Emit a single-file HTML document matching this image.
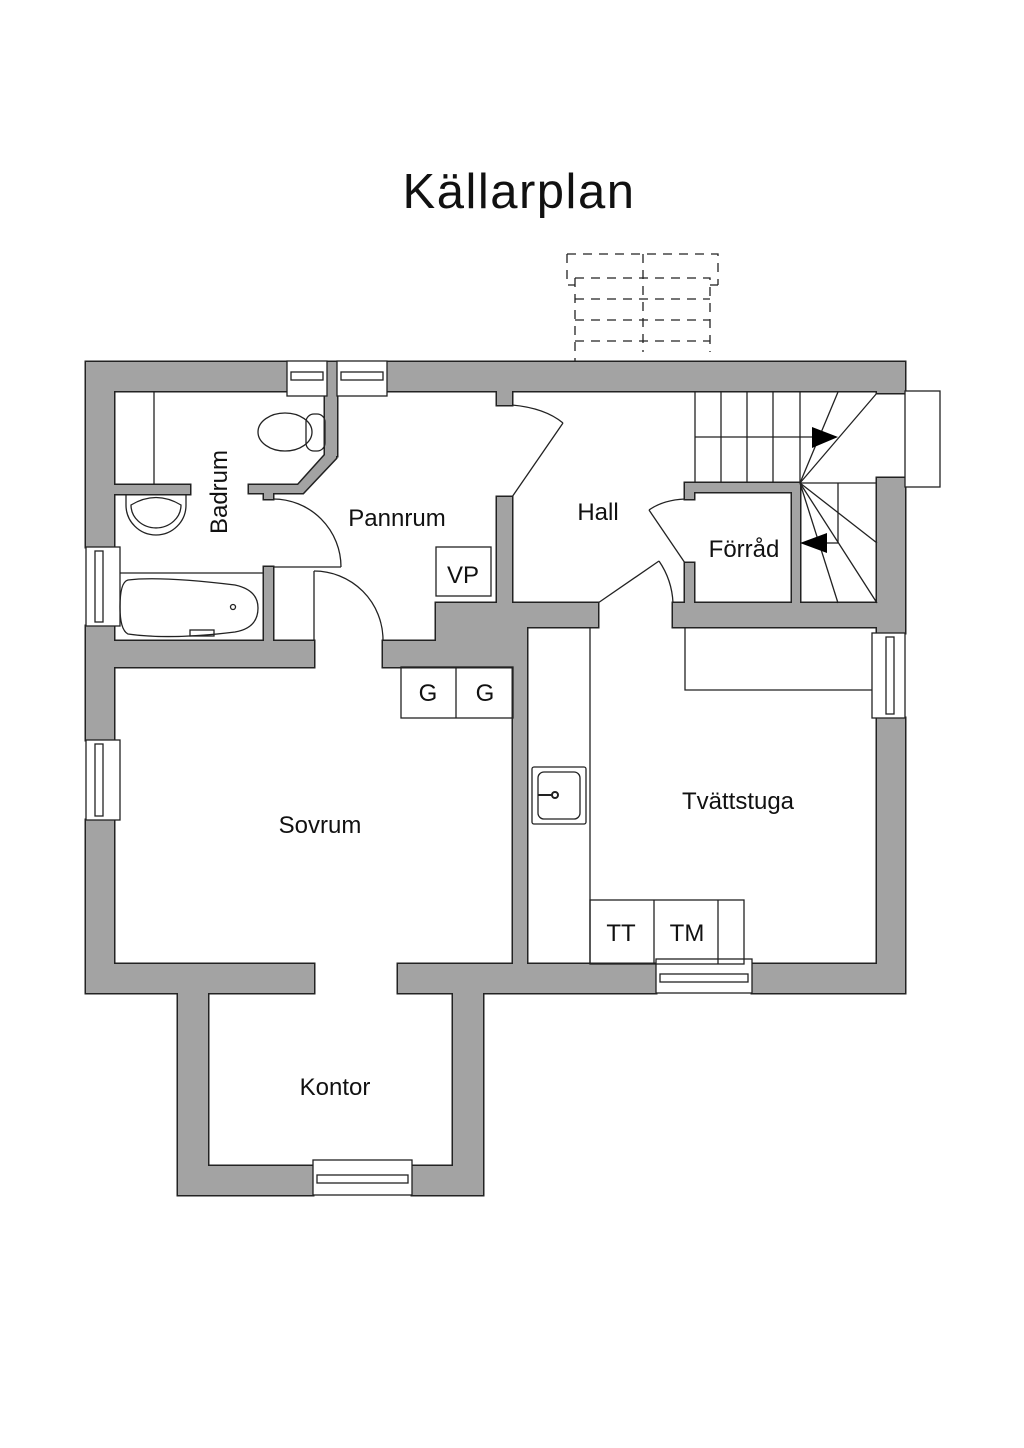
<!DOCTYPE html>
<html><head><meta charset="utf-8"><style>
html,body{margin:0;padding:0;background:#fff;}
svg{display:block;}
text{font-family:"Liberation Sans",sans-serif;fill:#111;}
</style></head><body>
<svg width="1024" height="1448" viewBox="0 0 1024 1448" xmlns="http://www.w3.org/2000/svg">
<text x="519" y="208" font-size="49" letter-spacing="1.5" text-anchor="middle">Källarplan</text>

<!-- dashed outdoor stairs -->
<g stroke="#222" stroke-width="1.3" fill="none" stroke-dasharray="9,7">
<path d="M567,254 H718 V285"/>
<path d="M567,254 V285 H575"/>
<path d="M575,278 H710 V352"/>
<path d="M575,278 V362"/>
<path d="M575,299 H710 M575,320 H710 M575,341 H710"/>
<path d="M643,254 V352"/>
<path d="M710,285 H718"/>
</g>

<!-- walls: outline pass -->
<g id="walls" stroke="#222" stroke-width="3" fill="#a3a3a3">
<rect x="86" y="362" width="201" height="29"/>
<rect x="325" y="362" width="12" height="94"/>
<rect x="387" y="362" width="518" height="29"/>
<rect x="877" y="362" width="28" height="31"/>
<rect x="877" y="478" width="28" height="155"/>
<rect x="877" y="718" width="28" height="275"/>
<rect x="86" y="362" width="28" height="185"/>
<rect x="86" y="626" width="28" height="114"/>
<rect x="86" y="820" width="28" height="173"/>
<rect x="86" y="964" width="228" height="29"/>
<rect x="398" y="964" width="258" height="29"/>
<rect x="752" y="964" width="153" height="29"/>
<rect x="178" y="964" width="30" height="231"/>
<rect x="453" y="964" width="30" height="231"/>
<rect x="178" y="1166" width="135" height="29"/>
<rect x="412" y="1166" width="71" height="29"/>
<rect x="86" y="641" width="228" height="26"/>
<rect x="264" y="567" width="9" height="74"/>
<polygon points="325,390 336,390 336,458 303,493 273,493 273,499 264,499 264,493 249,493 249,485 298,485 325,455"/>
<rect x="114" y="485" width="76" height="9"/>
<rect x="383" y="641" width="144" height="26"/>
<rect x="436" y="603" width="91" height="38"/>
<rect x="497" y="497" width="15" height="120"/>
<rect x="497" y="385" width="15" height="20"/>
<rect x="513" y="603" width="14" height="361"/>
<rect x="513" y="603" width="85" height="24"/>
<rect x="673" y="603" width="232" height="24"/>
<rect x="685" y="563" width="9" height="45"/>
<rect x="685" y="483" width="9" height="16"/>
<rect x="685" y="483" width="115" height="9"/>
<rect x="792" y="483" width="8" height="125"/>
</g>
<g fill="#a3a3a3">
<rect x="86" y="362" width="201" height="29"/>
<rect x="325" y="362" width="12" height="94"/>
<rect x="387" y="362" width="518" height="29"/>
<rect x="877" y="362" width="28" height="31"/>
<rect x="877" y="478" width="28" height="155"/>
<rect x="877" y="718" width="28" height="275"/>
<rect x="86" y="362" width="28" height="185"/>
<rect x="86" y="626" width="28" height="114"/>
<rect x="86" y="820" width="28" height="173"/>
<rect x="86" y="964" width="228" height="29"/>
<rect x="398" y="964" width="258" height="29"/>
<rect x="752" y="964" width="153" height="29"/>
<rect x="178" y="964" width="30" height="231"/>
<rect x="453" y="964" width="30" height="231"/>
<rect x="178" y="1166" width="135" height="29"/>
<rect x="412" y="1166" width="71" height="29"/>
<rect x="86" y="641" width="228" height="26"/>
<rect x="264" y="567" width="9" height="74"/>
<polygon points="325,390 336,390 336,458 303,493 273,493 273,499 264,499 264,493 249,493 249,485 298,485 325,455"/>
<rect x="114" y="485" width="76" height="9"/>
<rect x="383" y="641" width="144" height="26"/>
<rect x="436" y="603" width="91" height="38"/>
<rect x="497" y="497" width="15" height="120"/>
<rect x="497" y="385" width="15" height="20"/>
<rect x="513" y="603" width="14" height="361"/>
<rect x="513" y="603" width="85" height="24"/>
<rect x="673" y="603" width="232" height="24"/>
<rect x="685" y="563" width="9" height="45"/>
<rect x="685" y="483" width="9" height="16"/>
<rect x="685" y="483" width="115" height="9"/>
<rect x="792" y="483" width="8" height="125"/>
</g>

<!-- windows -->
<g stroke="#222" stroke-width="1.3" fill="#fff">
<rect x="287" y="361" width="40" height="35"/><rect x="291" y="372" width="32" height="8"/>
<rect x="337" y="361" width="50" height="35"/><rect x="341" y="372" width="42" height="8"/>
<rect x="86" y="547" width="34" height="79"/><rect x="95" y="551" width="8" height="71"/>
<rect x="86" y="740" width="34" height="80"/><rect x="95" y="744" width="8" height="72"/>
<rect x="872" y="633" width="33" height="85"/><rect x="886" y="637" width="8" height="77"/>
<rect x="656" y="959" width="96" height="34"/><rect x="660" y="974" width="88" height="8"/>
<rect x="313" y="1160" width="99" height="35"/><rect x="317" y="1175" width="91" height="8"/>
<rect x="905" y="391" width="35" height="96"/>
</g>

<g stroke="#222" stroke-width="1.3" fill="none">
<!-- badrum -->
<line x1="154" y1="391" x2="154" y2="485"/>
<path d="M126,494 V505 A30,30 0 0 0 186,505 V494"/>
<path d="M131,505 A24,22 0 0 0 181,505 Q156,490 131,505 Z"/>
<ellipse cx="285" cy="432" rx="27" ry="19"/>
<rect x="306" y="414" width="19" height="37" rx="8"/>
<line x1="120" y1="573" x2="264" y2="573"/>
<path d="M128,580 Q160,576 235,585 Q258,590 258,608 Q258,628 235,632 Q170,640 128,634 Q120,630 120,607 Q120,582 128,580 Z"/>
<circle cx="233" cy="607" r="2.5"/>
<rect x="190" y="630" width="24" height="6"/>
<path d="M273,499 A68,68 0 0 1 341,567"/>
<line x1="273" y1="567" x2="341" y2="567"/>
<path d="M314,571 A69,69 0 0 1 383,640"/>
<line x1="314" y1="571" x2="314" y2="641"/>
<!-- pannrum -->
<rect x="436" y="547" width="55" height="49"/>
<path d="M512,405 Q545,408 563,423"/>
<line x1="563" y1="423" x2="512" y2="497"/>
<!-- hall -->
<line x1="598" y1="603" x2="659" y2="561"/>
<path d="M659,561 Q672,580 673,603"/>
<path d="M685,499 Q663,500 649,510"/>
<line x1="649" y1="510" x2="685" y2="563"/>
<!-- stairs -->
<line x1="695" y1="391" x2="695" y2="483"/>
<line x1="721" y1="391" x2="721" y2="483"/>
<line x1="747" y1="391" x2="747" y2="483"/>
<line x1="773" y1="391" x2="773" y2="483"/>
<line x1="800" y1="391" x2="800" y2="483"/>
<line x1="695" y1="437" x2="836" y2="437"/>
<line x1="800" y1="483" x2="838" y2="392"/>
<line x1="800" y1="483" x2="877" y2="393"/>
<line x1="800" y1="483" x2="877" y2="483"/>
<line x1="838" y1="483" x2="838" y2="543"/>
<line x1="825" y1="543" x2="838" y2="543"/>
<line x1="800" y1="483" x2="877" y2="543"/>
<line x1="800" y1="483" x2="877" y2="603"/>
<line x1="800" y1="483" x2="838" y2="603"/>
<!-- tvatt -->
<rect x="401" y="667" width="112" height="51"/>
<line x1="456" y1="667" x2="456" y2="718"/>
<line x1="590" y1="627" x2="590" y2="964"/>
<polyline points="685,627 685,690 872,690"/>
<rect x="532" y="767" width="54" height="57" rx="2"/>
<rect x="538" y="772" width="42" height="47" rx="6"/>
<rect x="590" y="900" width="154" height="64"/>
<line x1="654" y1="900" x2="654" y2="964"/>
<line x1="718" y1="900" x2="718" y2="964"/>
</g>
<circle cx="555" cy="795" r="3" fill="none" stroke="#222" stroke-width="2"/>
<line x1="538" y1="795" x2="552" y2="795" stroke="#222" stroke-width="2"/>
<polygon points="812,427 838,437 812,448" fill="#000"/>
<polygon points="827,533 800,543 827,553" fill="#000"/>

<g font-size="24">
<text x="219" y="492" text-anchor="middle" transform="rotate(-90 219 492)" dy="8">Badrum</text>
<text x="397" y="526" text-anchor="middle">Pannrum</text>
<text x="598" y="520" text-anchor="middle">Hall</text>
<text x="744" y="557" text-anchor="middle">Förråd</text>
<text x="463" y="583" text-anchor="middle">VP</text>
<text x="428" y="701" text-anchor="middle">G</text>
<text x="485" y="701" text-anchor="middle">G</text>
<text x="320" y="833" text-anchor="middle">Sovrum</text>
<text x="738" y="809" text-anchor="middle">Tvättstuga</text>
<text x="621" y="941" text-anchor="middle">TT</text>
<text x="687" y="941" text-anchor="middle">TM</text>
<text x="335" y="1095" text-anchor="middle">Kontor</text>
</g>
</svg>
</body></html>
